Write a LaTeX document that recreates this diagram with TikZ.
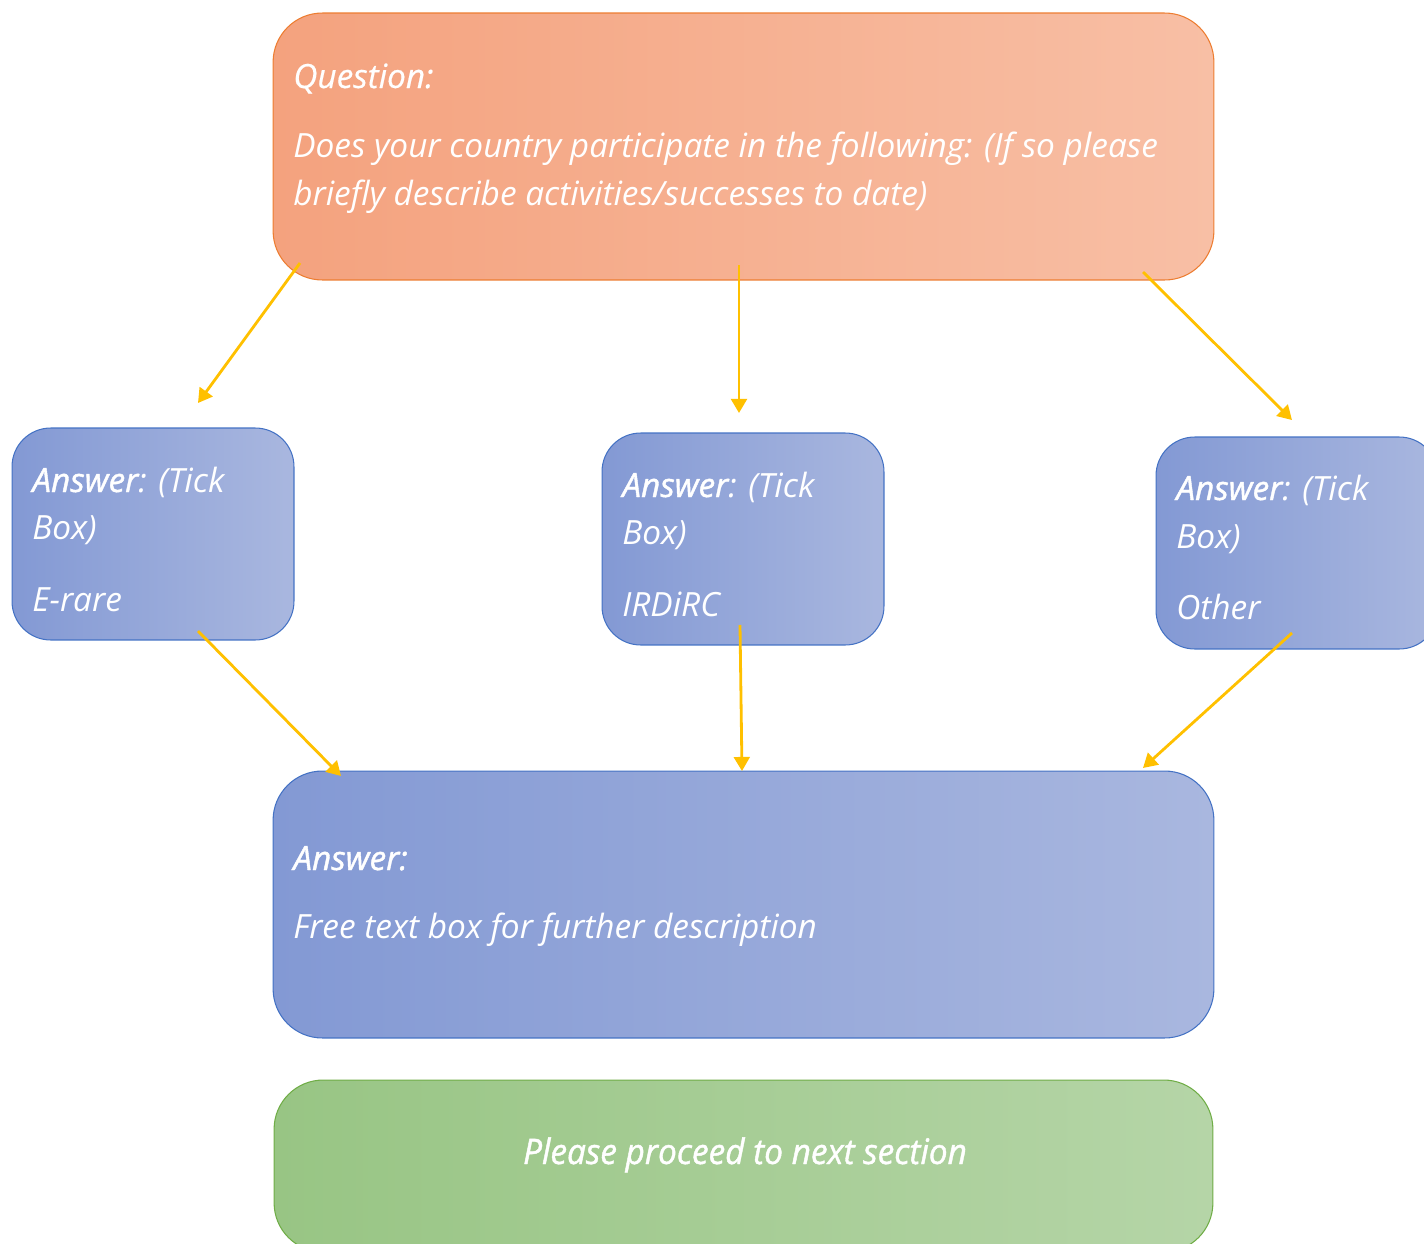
\documentclass[tikz,border=0pt]{standalone}
\usepackage{fontspec}
\setmainfont{Open Sans}
\usepackage{tikz}
\usetikzlibrary{arrows.meta}

\definecolor{qleft}{HTML}{F4A27E}
\definecolor{qright}{HTML}{F8BFA5}
\definecolor{qedge}{HTML}{ED7D31}
\definecolor{aleft}{HTML}{8399D4}
\definecolor{aright}{HTML}{A9B7DF}
\definecolor{aedge}{HTML}{4472C4}
\definecolor{gleft}{HTML}{98C584}
\definecolor{gright}{HTML}{B5D5A7}
\definecolor{gedge}{HTML}{70AD47}
\definecolor{flow}{HTML}{FFC000}

\newcommand{\hd}[1]{{\addfontfeature{FakeBold=1.2}#1}}

\begin{document}
\begin{tikzpicture}[x=0.02cm,y=-0.02cm,
    every node/.style={font=\fontsize{19}{27}\selectfont\itshape,text=white},
    qbox/.style={draw=qedge,left color=qleft,right color=qright,rounded corners=28,
      line width=0.6pt,inner sep=0,minimum width=18.82cm,minimum height=5.34cm},
    abox/.style={draw=aedge,left color=aleft,right color=aright,rounded corners=22,
      line width=0.6pt,inner sep=0,minimum width=5.64cm,minimum height=4.24cm},
    fbox/.style={draw=aedge,left color=aleft,right color=aright,rounded corners=28,
      line width=0.6pt,inner sep=0,minimum width=18.82cm,minimum height=5.34cm},
    gbox/.style={draw=gedge,left color=gleft,right color=gright,rounded corners=28,
      line width=0.6pt,inner sep=0,minimum width=18.78cm,minimum height=3.44cm},
    txt/.style={anchor=base west,inner sep=0},
    flowarrow/.style={draw=flow,line width=1.6pt,-{Triangle[length=8pt,width=9pt]}}]
\useasboundingbox (0,0) rectangle (1424,1244);
\clip (0,0) rectangle (1424,1244);

% boxes
\node[qbox] (q) at (743.5,146.5) {};
\node[abox] (a1) at (153,534) {};
\node[abox] (a2) at (743,539) {};
\node[abox] (a3) at (1297,543) {};
\node[fbox] (ft) at (743.5,904.5) {};
\node[gbox] (nx) at (743.5,1166) {};

% texts
\node[txt] (qh) at (293,88) {\addfontfeature{FakeBold=0.5}Question:};
\node[txt] (qt1) at (293,157) {Does your country participate in the following: (If so please};
\node[txt] (qt2) at (293,205) {briefly describe activities/successes to date)};
\node[txt] (a1h) at (32,492) {\hd{Answer}: (Tick};
\node[txt] (a1b) at (32,539) {Box)};
\node[txt] (a1t) at (32,611) {E-rare};
\node[txt] (a2h) at (622,497) {\hd{Answer}: (Tick};
\node[txt] (a2b) at (622,544) {Box)};
\node[txt] (a2t) at (622,616) {IRDiRC};
\node[txt] (a3h) at (1176,500) {\hd{Answer}: (Tick};
\node[txt] (a3b) at (1176,548) {Box)};
\node[txt] (a3t) at (1176,619) {Other};
\node[txt] (fth) at (293,870) {\hd{Answer:}};
\node[txt] (ftt) at (293,938) {Free text box for further description};
\node[anchor=base,inner sep=0,font=\fontsize{20}{27}\selectfont\itshape] (nxt) at (745,1164)
  {\addfontfeature{FakeStretch=0.95}\hd{Please proceed to next section}};

% arrow ends
\coordinate (q1) at (300,263);
\coordinate (q2) at (739,265);
\coordinate (q3) at (1143,272);
\coordinate (t1) at (198,403);
\coordinate (t2) at (739,413);
\coordinate (t3) at (1292,420);
\coordinate (b1) at (198,631);
\coordinate (b2) at (740,625);
\coordinate (b3) at (1292,633);
\coordinate (f1) at (341,776);
\coordinate (f2) at (742,771);
\coordinate (f3) at (1143,768);

\draw[flowarrow] (q1) -- (t1);
\draw[flowarrow] (q2) -- (t2);
\draw[flowarrow] (q3) -- (t3);
\draw[flowarrow] (b1) -- (f1);
\draw[flowarrow] (b2) -- (f2);
\draw[flowarrow] (b3) -- (f3);
\end{tikzpicture}
\end{document}
